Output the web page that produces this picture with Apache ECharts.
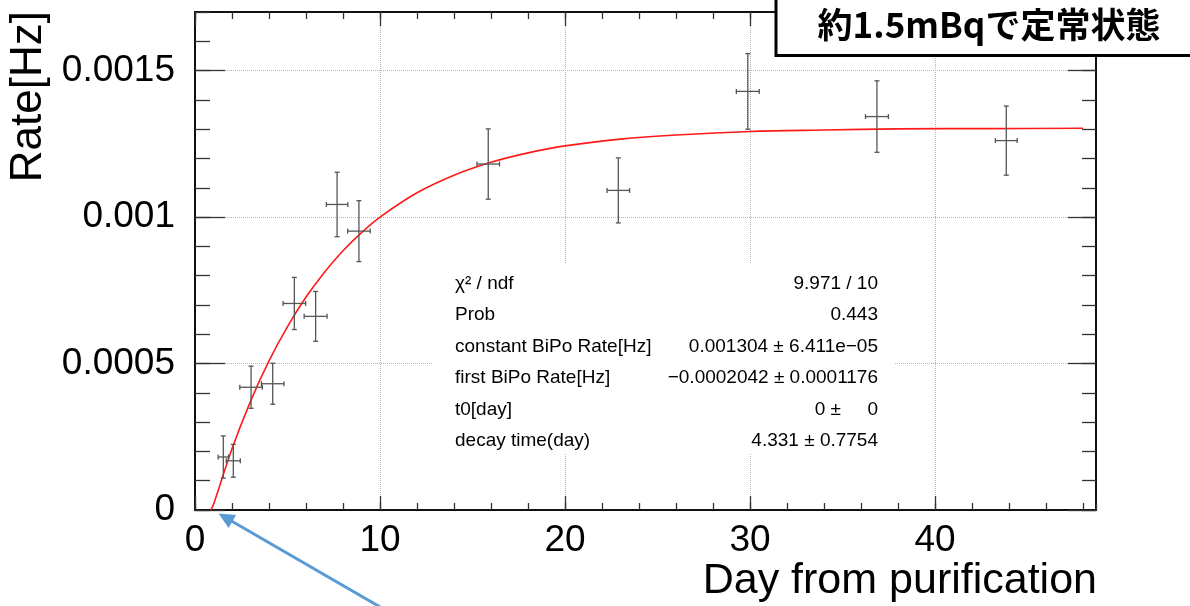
<!DOCTYPE html>
<html>
<head>
<meta charset="utf-8">
<script src="https://cdn.jsdelivr.net/npm/echarts@6/dist/echarts.min.js"></script>
<style>
html,body{margin:0;padding:0;background:#fff;}
#chart{width:1190px;height:606px;}
</style>
</head>
<body>
<div id="chart"></div>
<script>
// ---- data ----
const days     = [1.53, 2.07, 3.03, 4.20, 5.37, 6.52, 7.68, 8.86, 15.85, 22.88, 29.88, 36.86, 43.85];
const rates    = [0.000181, 0.000168, 0.000419, 0.000431, 0.000705, 0.000661, 0.001043, 0.000952, 0.001181, 0.001091, 0.001429, 0.001343, 0.001261];
const dayErrs  = [0.28, 0.38, 0.61, 0.61, 0.61, 0.62, 0.58, 0.61, 0.61, 0.61, 0.62, 0.62, 0.59];
const rateErrs = [0.000072, 0.000056, 0.000072, 0.000070, 0.000089, 0.000085, 0.000110, 0.000104, 0.000120, 0.000111, 0.000129, 0.000122, 0.000118];

// fitted curve
const fitDays  = [0.85, 1, 2, 3, 4, 5, 6, 7, 8, 9, 10, 12, 14, 16, 18, 20, 23, 26, 30, 34, 38, 43, 48];
const fitRates = [0, 0.000019, 0.000209, 0.000371, 0.000509, 0.000626, 0.000727, 0.000812, 0.000885, 0.000947, 0.001000, 0.001083, 0.001143, 0.001187, 0.001219, 0.001243, 0.001266, 0.001280, 0.001292, 0.001297, 0.001301, 0.001302, 0.001303];

// axis settings
const xMin = 0, xMax = 48.7, xMajor = 10, xMinor = 2;
const yMin = 0, yMax = 0.0017, yMajor = 0.0005, yMinor = 0.0001;

// stats box text
const statNames  = ['χ² / ndf', 'Prob', 'constant BiPo Rate[Hz]', 'first BiPo Rate[Hz]', 't0[day]', 'decay time(day)'];
const statValues = ['9.971 / 10', '0.443', '0.001304 ± 6.411e−05', '−0.0002042 ± 0.0001176', '0 ±     0', '4.331 ± 0.7754'];

const titleText = '約1.5mBqで定常状態';
const xTitle = 'Day from purification';
const yTitle = 'Rate[Hz]';

const FONT = "'Liberation Sans', Arial, Helvetica, sans-serif";

const chart = echarts.init(document.getElementById('chart'), null, {renderer: 'canvas'});

function xAxisDef(position, interval, tickLen, withLabels, withSplit) {
  return {
    type: 'value', position: position, min: xMin, max: xMax, interval: interval,
    axisLine: {show: true, onZero: false, lineStyle: {color: '#111', width: 2}},
    axisTick: {show: true, inside: true, length: tickLen, lineStyle: {color: '#333', width: 1.3}},
    axisLabel: {show: withLabels, fontSize: 37, fontFamily: FONT, color: '#000', margin: 12, showMaxLabel: false},
    splitLine: {show: withSplit, lineStyle: {type: 'dotted', color: '#b5b5b5', width: 1}},
    minorTick: {show: false}
  };
}
function yAxisDef(position, interval, tickLen, withLabels, withSplit) {
  return {
    type: 'value', position: position, min: yMin, max: yMax, interval: interval,
    axisLine: {show: true, onZero: false, lineStyle: {color: '#111', width: 2}},
    axisTick: {show: true, inside: true, length: tickLen, lineStyle: {color: '#333', width: 1.3}},
    axisLabel: {show: withLabels, fontSize: 37, fontFamily: FONT, color: '#000', margin: 20, showMaxLabel: false},
    splitLine: {show: withSplit, lineStyle: {type: 'dotted', color: '#b5b5b5', width: 1}},
    minorTick: {show: false}
  };
}

const errData = days.map((d, i) => [d, rates[i], dayErrs[i], rateErrs[i]]);
const fitData = fitDays.map((d, i) => [d, fitRates[i]]);

const graphics = [];
// stats box background (covers grid lines)
graphics.push({type: 'rect', z: 50, shape: {x: 433, y: 263, width: 462, height: 191}, style: {fill: '#fff'}});
const rowY0 = 283.5, rowStep = 31.5;
statNames.forEach((s, i) => {
  graphics.push({type: 'text', z: 51, x: 455, y: rowY0 + i * rowStep,
    style: {text: s, font: '19px ' + FONT, fill: '#000', textAlign: 'left', textVerticalAlign: 'middle'}});
  graphics.push({type: 'text', z: 51, x: 878, y: rowY0 + i * rowStep,
    style: {text: statValues[i], font: '19px ' + FONT, fill: '#000', textAlign: 'right', textVerticalAlign: 'middle'}});
});
// axis titles
graphics.push({type: 'text', z: 51, x: 1097, y: 581,
  style: {text: xTitle, font: '43px ' + FONT, fill: '#000', textAlign: 'right', textVerticalAlign: 'middle'}});
graphics.push({type: 'text', z: 51, x: 29, y: 11, rotation: Math.PI / 2,
  style: {text: yTitle, font: '44px ' + FONT, fill: '#000', textAlign: 'right', textVerticalAlign: 'middle'}});
// title box
graphics.push({type: 'rect', z: 60, shape: {x: 776, y: -6, width: 430, height: 61.5},
  style: {fill: '#fff', stroke: '#000', lineWidth: 3}});
graphics.push({type: 'text', z: 61, x: 989, y: 25,
  style: {text: titleText, font: "bold 35px 'Noto Sans CJK JP', sans-serif", fill: '#000', textAlign: 'center', textVerticalAlign: 'middle'}});
// blue arrow
const tip = [218.5, 513.5], tail = [387, 611];
const dx = tail[0] - tip[0], dy = tail[1] - tip[1], L = Math.sqrt(dx * dx + dy * dy);
const ux = dx / L, uy = dy / L, hl = 16, hw = 7.5;
const base = [tip[0] + ux * hl, tip[1] + uy * hl];
graphics.push({type: 'line', z: 70, shape: {x1: base[0] - ux * 2, y1: base[1] - uy * 2, x2: tail[0], y2: tail[1]},
  style: {stroke: '#5b9bd5', lineWidth: 3}});
graphics.push({type: 'polygon', z: 70, shape: {points: [tip, [base[0] - uy * hw, base[1] + ux * hw], [base[0] + uy * hw, base[1] - ux * hw]]},
  style: {fill: '#5b9bd5'}});

const option = {
  animation: false,
  backgroundColor: '#fff',
  grid: {left: 195, top: 12, right: 94, bottom: 96, containLabel: false},
  xAxis: [
    xAxisDef('bottom', xMajor, 14, true, true),
    xAxisDef('bottom', xMinor, 7, false, false),
    xAxisDef('top', xMajor, 14, false, false),
    xAxisDef('top', xMinor, 7, false, false)
  ],
  yAxis: [
    yAxisDef('left', yMajor, 30, true, true),
    yAxisDef('left', yMinor, 15, false, false),
    yAxisDef('right', yMajor, 28, false, false),
    yAxisDef('right', yMinor, 14, false, false)
  ],
  series: [
    {
      type: 'line', name: 'fit', xAxisIndex: 0, yAxisIndex: 0, data: fitData,
      smooth: 0.35, showSymbol: false, symbol: 'none', clip: true,
      lineStyle: {color: '#ff1a1a', width: 1.6}, z: 3
    },
    {
      type: 'custom', name: 'data', xAxisIndex: 0, yAxisIndex: 0, data: errData, z: 4,
      renderItem: function (params, api) {
        const x = api.value(0), y = api.value(1), ex = api.value(2), ey = api.value(3);
        const c = api.coord([x, y]);
        const top = api.coord([x, y + ey]);
        const bot = api.coord([x, y - ey]);
        const lft = api.coord([x - ex, y]);
        const rgt = api.coord([x + ex, y]);
        const cap = 2.5;
        const st = {stroke: '#555', lineWidth: 1.3};
        return {
          type: 'group',
          children: [
            {type: 'line', shape: {x1: c[0], y1: top[1], x2: c[0], y2: bot[1]}, style: st},
            {type: 'line', shape: {x1: lft[0], y1: c[1], x2: rgt[0], y2: c[1]}, style: st},
            {type: 'line', shape: {x1: c[0] - cap, y1: top[1], x2: c[0] + cap, y2: top[1]}, style: st},
            {type: 'line', shape: {x1: c[0] - cap, y1: bot[1], x2: c[0] + cap, y2: bot[1]}, style: st},
            {type: 'line', shape: {x1: lft[0], y1: c[1] - cap, x2: lft[0], y2: c[1] + cap}, style: st},
            {type: 'line', shape: {x1: rgt[0], y1: c[1] - cap, x2: rgt[0], y2: c[1] + cap}, style: st}
          ]
        };
      }
    }
  ],
  graphic: graphics
};
chart.setOption(option);
</script>
</body>
</html>
